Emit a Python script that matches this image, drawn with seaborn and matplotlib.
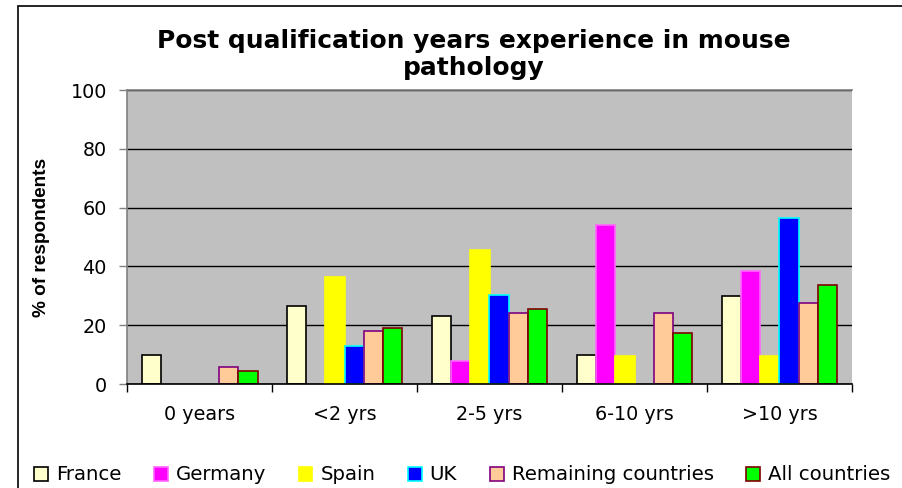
import matplotlib
matplotlib.use("Agg")
import matplotlib.pyplot as plt
from matplotlib.patches import Patch, Rectangle
from matplotlib import colors as mcolors
import seaborn as sns
import pandas as pd

categories = ["0 years", "<2 yrs", "2-5 yrs", "6-10 yrs", ">10 yrs"]
countries = ["France", "Germany", "Spain", "UK", "Remaining countries", "All countries"]
france = [10.0, 26.5, 23.2, 10.0, 29.9]
germany = [None, None, 7.7, 54.1, 38.4]
spain = [None, 36.4, 45.6, 9.4, 9.4]
uk = [None, 13.0, 30.3, None, 56.6]
remaining = [5.9, 18.1, 24.0, 24.0, 27.4]
all_countries = [4.5, 18.9, 25.4, 17.2, 33.7]
yticks = [0, 20, 40, 60, 80, 100]

face_colors = ["#FFFFCC", "#FF00FF", "#FFFF00", "#0000FF", "#FFCC99", "#00FF00"]
edge_colors = ["#000000", "#FF66FF", "#FFFF00", "#00FFFF", "#800080", "#800000"]

series = [france, germany, spain, uk, remaining, all_countries]
rows = []
for name, vals in zip(countries, series):
    for cat, v in zip(categories, vals):
        if v is not None:
            rows.append({"Experience": cat, "Percent": v, "Country": name})
df = pd.DataFrame(rows)

sns.set_style("white")
plt.rcParams["font.family"] = ["DejaVu Sans"]
plt.rcParams["text.color"] = "black"
plt.rcParams["axes.labelcolor"] = "black"
plt.rcParams["xtick.color"] = "black"
plt.rcParams["ytick.color"] = "black"

fig = plt.figure(figsize=(9.02, 4.88), dpi=100)
ax = fig.add_axes([127 / 902, 1 - 384 / 488, 725 / 902, 294 / 488])
ax.set_facecolor("#C0C0C0")

sns.barplot(data=df, x="Experience", y="Percent", hue="Country",
            order=categories, hue_order=countries,
            palette=dict(zip(countries, face_colors)), saturation=1,
            width=0.8, errorbar=None, legend=False, linewidth=1.2, ax=ax)

face2edge = {mcolors.to_hex(f): e for f, e in zip(face_colors, edge_colors)}
for p in ax.patches:
    fc = mcolors.to_hex(p.get_facecolor())
    if fc in face2edge:
        p.set_edgecolor(face2edge[fc])
        p.set_linewidth(1.2)

ax.set_ylim(0, 100)
ax.set_xlim(-0.5, len(categories) - 0.5)
ax.set_yticks(yticks)
ax.yaxis.grid(True, color="black", linewidth=1)
ax.set_axisbelow(True)

for s in ["left", "top"]:
    ax.spines[s].set_color("#808080")
    ax.spines[s].set_linewidth(1.2)
ax.spines["right"].set_visible(False)
ax.spines["bottom"].set_color("black")
ax.spines["bottom"].set_linewidth(1.2)

ax.tick_params(axis="y", which="major", direction="out", length=5.5, width=1,
               color="#808080", labelcolor="black", pad=9, labelsize=13.8, left=True)
ax.tick_params(axis="x", which="major", length=0, pad=15, labelsize=13.8,
               labelcolor="black", bottom=True)
ax.set_xticks([i - 0.5 for i in range(len(categories) + 1)], minor=True)
ax.tick_params(axis="x", which="minor", direction="out", length=5.5, width=1,
               color="black", bottom=True)

ax.set_xlabel("")
ax.set_ylabel("% of respondents", fontsize=13.7, fontweight="bold", color="black",
              family=["Liberation Sans", "DejaVu Sans"])
ax.yaxis.set_label_coords(-0.106, 0.5)

fig.text(473.5 / 902, 1 - 75 / 488,
         "Post qualification years experience in mouse\npathology",
         ha="center", va="baseline", fontsize=17.9, fontweight="bold",
         linespacing=1.17, color="black")

handles = [Patch(facecolor=f, edgecolor=e, linewidth=1.2) for f, e in zip(face_colors, edge_colors)]
fig.legend(handles, countries, loc="center left", bbox_to_anchor=(34 / 902, 1 - 475 / 488),
           ncol=6, frameon=False, fontsize=14.2, handlelength=0.7, handleheight=0.7,
           handletextpad=0.4, columnspacing=1.66, borderpad=0, borderaxespad=0,
           labelcolor="black")

fig.patches.append(Rectangle((18 / 902, -0.5), 2, 1.5 - 6 / 488, transform=fig.transFigure,
                             fill=False, edgecolor="black", linewidth=1.2))

fig.savefig("out.png", dpi=100)
